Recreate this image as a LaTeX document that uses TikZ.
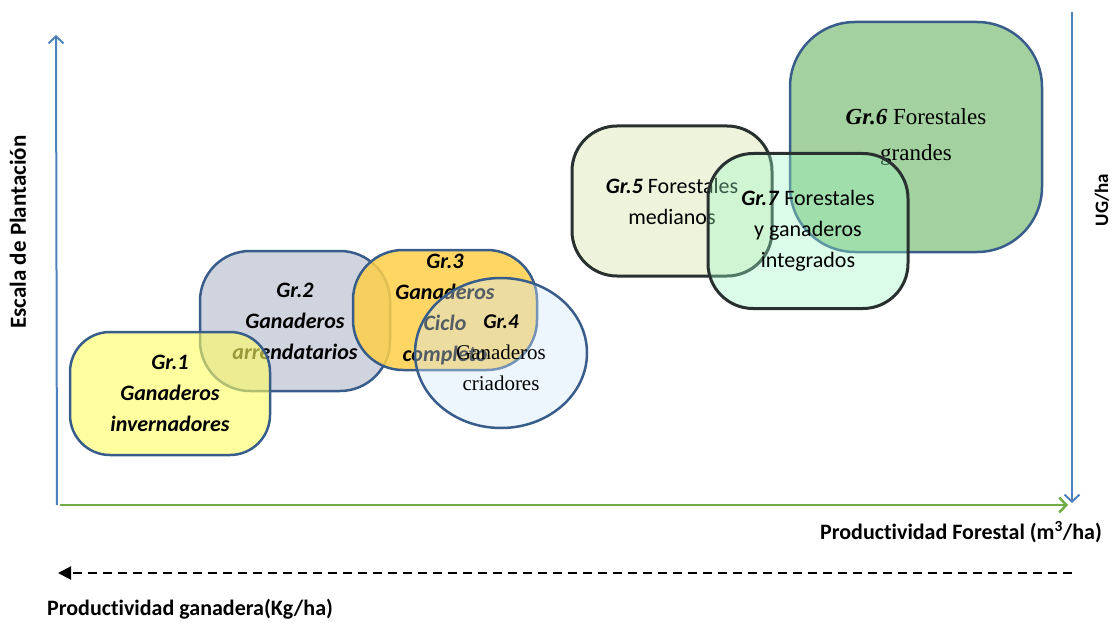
\documentclass[tikz,border=0pt]{standalone}
\usepackage{fontspec}
\setmainfont{Carlito}[Ligatures=NoCommon]
\newfontfamily\timesfont{Liberation Serif}
\usepackage{tikz}
\usetikzlibrary{arrows.meta, shapes.geometric}
\definecolor{myyellow}{RGB}{255,255,97}
\definecolor{mygrey}{RGB}{177,183,200}
\definecolor{myorange}{RGB}{255,207,73}
\definecolor{mylightblue}{RGB}{210,230,250}
\definecolor{mylime}{RGB}{238,244,220}
\definecolor{mygreen}{RGB}{163,209,160}
\definecolor{mymint}{RGB}{155,247,193}
\definecolor{myborder}{RGB}{56,93,138}
\definecolor{mydark}{RGB}{40,48,48}
\definecolor{myaxis}{RGB}{79,129,189}
\definecolor{myaxisgreen}{RGB}{112,173,71}

\begin{document}
\begin{tikzpicture}[x=1pt, y=-1pt,
    grp/.style = {draw=myborder, line width=2.5pt, rounded corners=45pt, align=center, text opacity=1, font=\bfseries\itshape\fontsize{22}{31}\selectfont},
    forest/.style = {grp, draw=mydark, line width=3pt, font=\fontsize{22}{31}\selectfont},
    lbl/.style = {font=\bfseries\fontsize{22}{26}\selectfont},
    >={Straight Barb[length=7pt,width=15pt]}]
    \useasboundingbox (0,0) rectangle (1120,623);

    % groups (drawing order gives the overlaps)
    \node[grp, fill=mygrey, fill opacity=0.6, minimum width=190pt, minimum height=140pt, rounded corners=50pt] (gr2) at (295,321) {Gr.2\\Ganaderos\\arrendatarios};
    \node[grp, fill=myyellow, fill opacity=0.6, minimum width=200pt, minimum height=123pt, rounded corners=40pt] (gr1) at (170,393.5) {Gr.1\\Ganaderos\\invernadores};
    \node[grp, fill=myorange, fill opacity=0.85, minimum width=184pt, minimum height=120pt, rounded corners=50pt] (gr3) at (445,310) {Gr.3\\Ganaderos\\Ciclo\\completo};
    \node[grp, ellipse, inner sep=0pt, fill=mylightblue, fill opacity=0.4, minimum width=172pt, minimum height=150pt, font=\fontsize{21}{31}\selectfont] (gr4) at (501,353) {\textbf{\textit{Gr.4}}\\{\timesfont Ganaderos}\\{\timesfont criadores}};

    \node[forest, fill=mylime, minimum width=200pt, minimum height=150pt] (gr5) at (672,201) {\textbf{\textit{Gr.5}} Forestales\\medianos};
    \node[grp, fill=mygreen, minimum width=252pt, minimum height=230pt, rounded corners=65pt, font=\timesfont\fontsize{23}{36}\selectfont] (gr6) at (916,137) {\textbf{\textit{Gr.6}} Forestales\\grandes};
    \node[forest, fill=mymint, fill opacity=0.37, minimum width=200pt, minimum height=155pt] (gr7) at (808,231) {\textbf{\textit{Gr.7}} Forestales\\y ganaderos\\integrados};

    % axes
    \coordinate (origin) at (57,505);
    \coordinate (ytop) at (56,35);
    \coordinate (xstart) at (60,505);
    \coordinate (xend) at (1068,505);
    \coordinate (rtop) at (1072,12);
    \coordinate (rbot) at (1072,503);
    \coordinate (dstart) at (1072,573);
    \coordinate (dend) at (58,573);
    \draw[->, line width=2pt, color=myaxis] (origin) -- (ytop);
    \draw[->, line width=2.5pt, color=myaxisgreen] (xstart) -- (xend);
    \draw[->, line width=2pt, color=myaxis] (rtop) -- (rbot);
    \draw[-{Triangle[length=13pt,width=13pt]}, line width=2pt, dash pattern=on 9pt off 6pt] (dstart) -- (dend);

    \node[lbl, rotate=90, font=\bfseries\fontsize{23}{26}\selectfont] (ylab) at (18,232) {Escala de Plantación};
    \node[lbl, rotate=90, font=\bfseries\fontsize{19}{23}\selectfont] (rlab) at (1102,200) {UG/ha};
    \node[lbl] (xlab) at (961,532) {Productividad Forestal (m\textsuperscript{3}/ha)};
    \node[lbl] (glab) at (190,609) {Productividad ganadera(Kg/ha)};
\end{tikzpicture}
\end{document}
